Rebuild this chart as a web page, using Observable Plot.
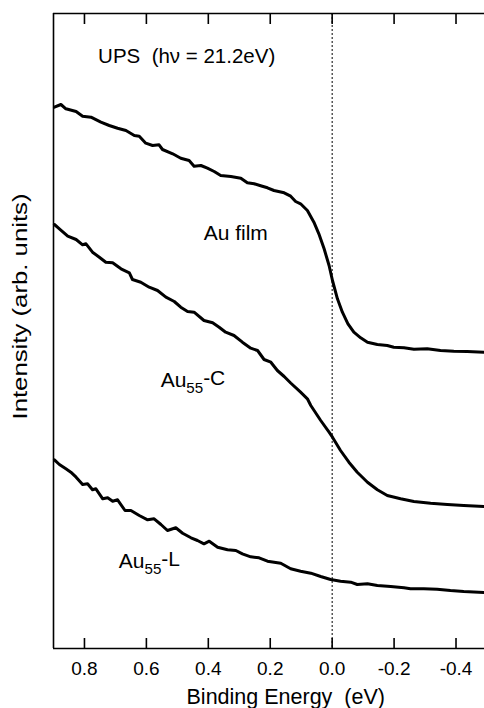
<!DOCTYPE html>
<html>
<head>
<meta charset="utf-8">
<script src="https://cdn.jsdelivr.net/npm/d3@7"></script>
<script src="https://cdn.jsdelivr.net/npm/@observablehq/plot@0.6"></script>
<style>
  html, body { margin: 0; padding: 0; background: #fff; }
  svg { display: block; }
</style>
</head>
<body>
<div id="chart"></div>
<script>
// Binding energy (eV) and intensity (arb. units)
const filmE = [0.897,0.876,0.860,0.827,0.806,0.779,0.747,0.720,0.693,0.666,0.639,0.623,0.602,0.580,0.559,0.548,0.515,0.489,0.462,0.446,0.424,0.403,0.381,0.360,0.327,0.295,0.274,0.252,0.231,0.209,0.188,0.155,0.134,0.118,0.102,0.080,0.059,0.043,0.026,0.010,-0.001,-0.017,-0.033,-0.051,-0.070,-0.092,-0.114,-0.146,-0.178,-0.199,-0.232,-0.264,-0.307,-0.350,-0.393,-0.436,-0.490];
const filmI = [541.3,544,539.7,537,532.3,531.3,526.3,523,520.3,518,513,512.3,505.3,503,503.7,499,494.7,490.3,488,482.3,483,480.3,477,473,472,470.3,465.7,464.7,462.7,460.7,458,455.7,452.3,447,444.7,438,426.3,414.7,399.7,383,368,349.7,336.3,324.7,316.3,310.7,306.3,304,303,301.3,300.7,299.3,299.7,298,297.3,297,296.3];

const cE = [0.897,0.881,0.854,0.827,0.806,0.795,0.774,0.752,0.731,0.709,0.682,0.655,0.645,0.618,0.591,0.564,0.537,0.510,0.489,0.467,0.446,0.414,0.386,0.365,0.344,0.317,0.290,0.263,0.241,0.220,0.198,0.177,0.155,0.134,0.102,0.080,0.069,0.037,0.010,-0.001,-0.027,-0.054,-0.081,-0.114,-0.146,-0.178,-0.221,-0.264,-0.318,-0.372,-0.425,-0.490];
const cI = [424,419.7,412.3,409,403.7,404.7,396.3,391.3,386.3,385.7,379.7,375.7,369,366.3,361.3,358,351.3,347,341.3,337,336.3,328,325.7,321.3,316.3,313,306.3,300.3,298,289,286.3,278,272,265.5,256.3,249.7,243,228,216.3,211.3,198,186.3,176.3,166.3,158.7,153,149.7,147,145.3,144,143,142];

const lE = [0.897,0.881,0.860,0.844,0.827,0.806,0.790,0.774,0.763,0.741,0.725,0.709,0.693,0.669,0.650,0.623,0.596,0.575,0.553,0.532,0.505,0.483,0.456,0.435,0.414,0.397,0.370,0.338,0.311,0.290,0.263,0.236,0.209,0.166,0.134,0.102,0.069,0.037,0.005,-0.027,-0.060,-0.081,-0.114,-0.146,-0.189,-0.232,-0.253,-0.296,-0.339,-0.382,-0.425,-0.490];
const lI = [188.7,184,179.7,176.3,171.3,164,164.7,158.7,159.7,149.7,150.7,147.3,148.7,138,138,133,128.7,129.7,124,118,120.7,115.3,110.7,108,104.7,107.3,101.3,98.7,98,94.7,91.7,90.7,87.3,85.3,79.7,77.3,75.3,72,69,67.3,66.3,64,64.7,63,62,60.7,59.7,59.7,59.3,58,57,56];

const seriesNames = ["Au film", "Au55-C", "Au55-L"];
const xTicks = [0.8, 0.6, 0.4, 0.2, 0.0, -0.2, -0.4];
const xDomain = [0.9, -0.492];
const yDomain = [0, 635];

// label anchor points (energy, intensity)
const labelE = [0.415, 0.554, 0.689];
const labelI = [415, 268, 87];
const titleText = "UPS  (h\u03BD = 21.2eV)";
const xLabel = "Binding Energy  (eV)";
const yLabel = "Intensity (arb. units)";

const rows = [];
[[filmE, filmI], [cE, cI], [lE, lI]].forEach(([E, I], k) => {
  E.forEach((e, i) => rows.push({series: seriesNames[k], energy: e, intensity: I[i]}));
});
const labels = seriesNames.map((s, i) => ({text: s, energy: labelE[i], intensity: labelI[i]}));

const font = "'Liberation Sans', Arial, Helvetica, sans-serif";

const chart = Plot.plot({
  width: 484,
  height: 708,
  marginLeft: 53,
  marginRight: 0,
  marginTop: 13,
  marginBottom: 60,
  style: {fontFamily: font, fontSize: "19px", color: "black", background: "white"},
  x: {domain: xDomain},
  y: {domain: yDomain, axis: null},
  marks: [
    Plot.ruleX([0], {strokeDasharray: "2,2", strokeWidth: 1}),
    Plot.ruleX([xDomain[0]], {strokeWidth: 1.6}),
    Plot.ruleY(yDomain, {strokeWidth: 1.6}),
    Plot.axisX(xTicks, {anchor: "bottom", tickSize: -10, tickPadding: 23, strokeWidth: 1.6, tickFormat: d => d.toFixed(1), label: null}),
    Plot.axisX(xTicks, {anchor: "top", tickSize: -10, strokeWidth: 1.6, tickFormat: () => "", label: null}),
    Plot.line(rows, {x: "energy", y: "intensity", z: "series", stroke: "black", strokeWidth: 3, strokeLinejoin: "round"}),
    Plot.text(labels, {x: "energy", y: "intensity", text: "text", textAnchor: "start", lineAnchor: "middle", fontSize: 21}),
    Plot.text([titleText], {x: 0.756, y: 592, text: d => d, textAnchor: "start", lineAnchor: "middle", fontSize: 20.5}),
    Plot.text([xLabel], {x: 0.15, frameAnchor: "bottom", text: d => d, dy: 49, lineAnchor: "middle", fontSize: 21.5}),
    Plot.text([yLabel], {y: 229, frameAnchor: "left", text: d => d, dx: -33, rotate: -90, textAnchor: "start", lineAnchor: "middle", fontSize: 20})
  ]
});

// subscripts and stretched y label
d3.select(chart).selectAll("text").each(function () {
  const t = this.textContent;
  const m = t.match(/^Au(\d+)(-.*)$/);
  if (m) {
    const sel = d3.select(this);
    sel.text(null);
    sel.append("tspan").text("Au");
    sel.append("tspan").attr("font-size", "0.72em").attr("dy", "0.35em").text(m[1]);
    sel.append("tspan").attr("dy", "-0.35em").text(m[2]);
  }
  if (t === yLabel) {
    d3.select(this).attr("textLength", 226).attr("lengthAdjust", "spacingAndGlyphs");
  }
});

document.getElementById("chart").appendChild(chart);
</script>
</body>
</html>
